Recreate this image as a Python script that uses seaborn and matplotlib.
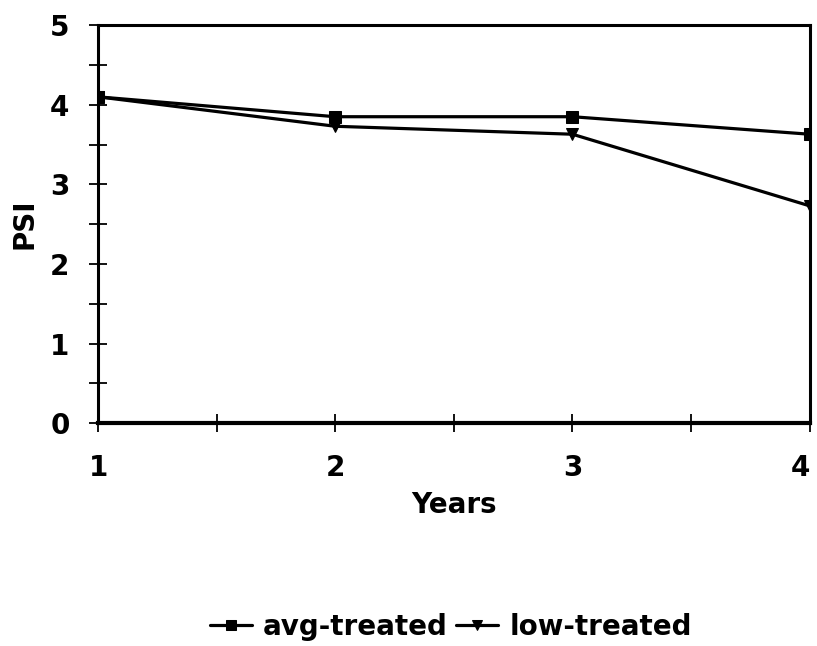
import numpy as np
import pandas as pd
import matplotlib
matplotlib.use("Agg")
import matplotlib.pyplot as plt
import seaborn as sns
from matplotlib.ticker import MultipleLocator

# datos
years = [1, 2, 3, 4]
avg_treated = [4.10, 3.85, 3.85, 3.63]
low_treated = [4.10, 3.73, 3.63, 2.73]

df = pd.DataFrame({
    "Years": years * 2,
    "PSI": avg_treated + low_treated,
    "grupo": ["avg-treated"] * 4 + ["low-treated"] * 4,
})

sns.set_style("white")
plt.rcParams["font.family"] = ["DejaVu Sans"]
plt.rcParams["font.weight"] = "bold"
plt.rcParams["text.color"] = "black"
plt.rcParams["axes.labelcolor"] = "black"

fig = plt.figure(figsize=(8.17, 6.46), dpi=100)
ax = fig.add_axes([0.12, 0.345, 0.871, 0.616])

sns.lineplot(data=df, x="Years", y="PSI", hue="grupo", style="grupo",
             palette=["black", "black"], markers={"avg-treated": "s", "low-treated": "v"},
             dashes=False, linewidth=2.3, markersize=9, markeredgecolor="black",
             ax=ax, legend=True)

ax.set_xlim(1, 4)
ax.set_ylim(0, 5)
ax.set_xticks(years)
ax.xaxis.set_minor_locator(MultipleLocator(0.5))
ax.yaxis.set_major_locator(MultipleLocator(1))
ax.yaxis.set_minor_locator(MultipleLocator(0.5))
ax.tick_params(which="both", direction="inout", length=13, width=1.3, colors="black",
               labelsize=20, bottom=True, left=True)
ax.tick_params(axis="x", which="major", pad=16)
ax.tick_params(axis="y", which="major", pad=14)
for s in ax.spines.values():
    s.set_color("black")
    s.set_linewidth(2.2)
ax.spines["bottom"].set_linewidth(3)

# el ultimo rotulo (4) queda pegado al borde
ax.xaxis.get_major_ticks()[-1].label1.set_horizontalalignment("right")

ax.set_xlabel("Years", fontsize=20, fontweight="bold", labelpad=6)
ax.set_ylabel("PSI", fontsize=20, fontweight="bold", labelpad=8)

h, l = ax.get_legend_handles_labels()
ax.legend(h, l, loc="center", bbox_to_anchor=(451 / 817, 1 - 627 / 646),
          bbox_transform=fig.transFigure, frameon=False, ncol=2, fontsize=20,
          handlelength=1.5, columnspacing=0.3, handletextpad=0.4, markerscale=0.75)

fig.savefig("out.png", dpi=100)
